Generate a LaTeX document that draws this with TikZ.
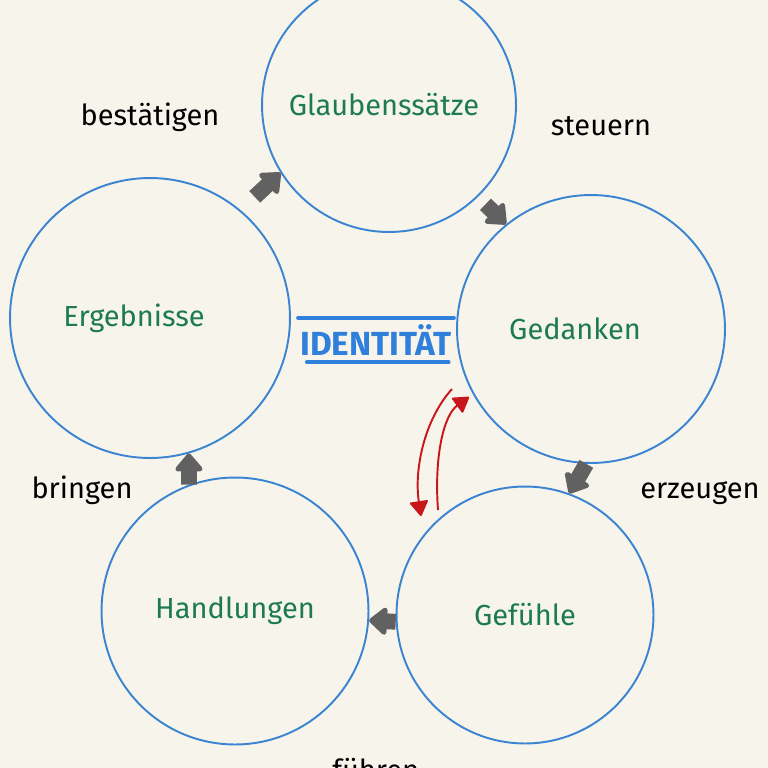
\documentclass[tikz,border=0pt]{standalone}
\usepackage{fontspec}
\setmainfont{Fira Sans}
\usetikzlibrary{arrows.meta}

\definecolor{paper}{HTML}{F7F5EB}
\definecolor{ringblue}{HTML}{3A84D2}
\definecolor{labelgreen}{HTML}{1D7A55}
\definecolor{idblue}{HTML}{2F7FDB}
\definecolor{flowgrey}{HTML}{616161}
\definecolor{loopred}{HTML}{C8161B}

\begin{document}
\begin{tikzpicture}
    [
      x=0.02cm, y=-0.02cm,
      phase/.style={draw=ringblue,line width=1.1pt,circle,inner sep=0pt},
      phasetext/.style={text=labelgreen,font=\fontsize{16.5}{19}\selectfont},
      verb/.style={text=black,font=\fontsize{16.5}{19}\selectfont,inner sep=0pt},
      flow/.style={draw=flowgrey,line width=9pt,line join=round,
        -{Triangle[width=18pt,length=11pt,round]}},
      loopback/.style={draw=loopred,line width=1.1pt,
        -{Triangle[width=11pt,length=9pt,round]}},
      underline/.style={draw=idblue,line width=2.3pt,line cap=round}
    ]

    \fill [paper] (0,0) rectangle (768,768);
    \useasboundingbox (0,0) rectangle (768,768);
    \clip (0,0) rectangle (768,768);

    \node at (389,105) [phase,minimum size=5.08cm,
      label={[phasetext,xshift=-0.1cm]center:Glaubenssätze}] (glaub) {};
    \node at (591,329) [phase,minimum size=5.36cm,
      label={[phasetext,xshift=-0.32cm]center:Gedanken}] (ged) {};
    \node at (525,615) [phase,minimum size=5.14cm,
      label={[phasetext]center:Gefühle}] (gef) {};
    \node at (235,611) [phase,minimum size=5.34cm,
      label={[phasetext]center:Handlungen}] (hand) {};
    \node at (150,318) [phase,minimum size=5.6cm,
      label={[phasetext,xshift=-0.32cm]center:Ergebnisse}] (erg) {};

    \node at (150,117) [verb] (bestaetigen) {bestätigen};
    \node at (601,126) [verb] (steuern) {steuern};
    \node at (700,493) [verb] (erzeugen) {erzeugen};
    \node at (82,490) [verb] (bringen) {bringen};
    \node at (332,758) [verb,anchor=north west] (fuehren) {führen};

    \node at (376,340) [text=idblue,font=\fontsize{19}{21}\bfseries,
      minimum width=3.1cm,minimum height=0.88cm,inner sep=0pt] (ident) {IDENTITÄT};
    \draw [underline] (ident.north west) -- (ident.north east);
    \draw [underline] ([xshift=5]ident.south west) -- ([xshift=-3]ident.south east);

    \draw [flow,shorten <=11] (erg.50) -- (glaub.212);
    \draw [flow,shorten <=6] (glaub.-46) -- (ged.129);
    \draw [flow] (ged.-92) -- (gef.70);
    \draw [flow] (gef.183) -- (hand.-4);
    \draw [flow] (hand.110) -- (erg.-74);

    \coordinate (downstart) at (452,389);
    \coordinate (downend) at (421,516);
    \coordinate (upstart) at (438,510);
    \coordinate (upend) at (469,397);
    \draw [loopback] (downstart) .. controls (424,420) and (414,470) .. (downend);
    \draw [loopback] (upstart) .. controls (434,455) and (444,415) .. (upend);
  \end{tikzpicture}
\end{document}
